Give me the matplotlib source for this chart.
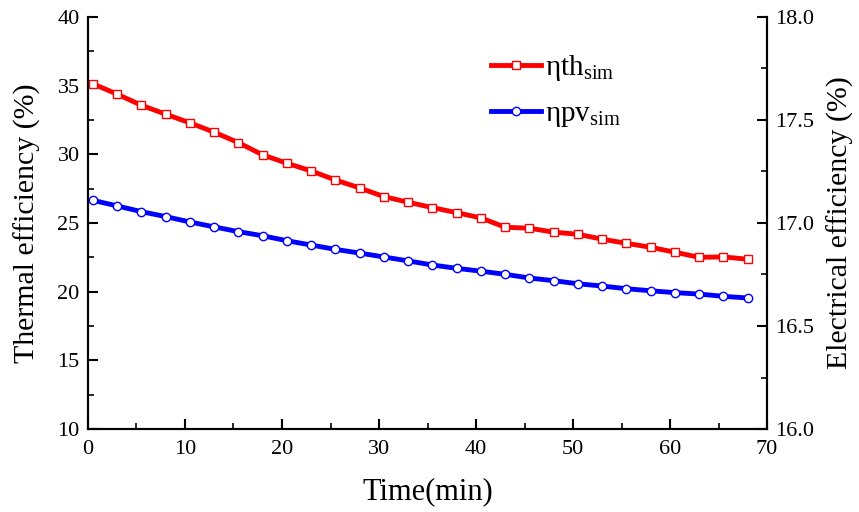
import matplotlib
matplotlib.use("Agg")
import matplotlib.pyplot as plt
from matplotlib.ticker import MultipleLocator

plt.rcParams['font.family'] = ['Liberation Serif', 'DejaVu Serif']
plt.rcParams['mathtext.fontset'] = 'custom'
plt.rcParams['mathtext.rm'] = 'Liberation Serif'

# time (min)
time = [0.5, 3.0, 5.5, 8.0, 10.5, 13.0, 15.5, 18.0, 20.5, 23.0, 25.5, 28.0, 30.5, 33.0,
        35.5, 38.0, 40.5, 43.0, 45.5, 48.0, 50.5, 53.0, 55.5, 58.0, 60.5, 63.0, 65.5, 68.0]
# thermal efficiency (%)
eta_th = [35.13, 34.38, 33.57, 32.92, 32.29, 31.61, 30.85, 29.96, 29.35, 28.79, 28.13, 27.55,
          26.92, 26.51, 26.12, 25.75, 25.37, 24.69, 24.62, 24.33, 24.18, 23.82, 23.52, 23.23,
          22.87, 22.50, 22.53, 22.36]
# electrical efficiency (%)
eta_pv = [17.110, 17.083, 17.055, 17.031, 17.005, 16.981, 16.958, 16.938, 16.914, 16.893,
          16.872, 16.854, 16.835, 16.816, 16.796, 16.780, 16.766, 16.751, 16.733, 16.720,
          16.705, 16.694, 16.681, 16.671, 16.662, 16.655, 16.644, 16.636]

fig = plt.figure(figsize=(8.59, 5.12), dpi=100)
ax = fig.add_axes([0.1024, 0.162, 0.7906, 0.805])
ax2 = ax.twinx()

l1, = ax.plot(time, eta_th, color='red', lw=3.5, marker='s', ms=5.5,
              mfc='white', mec='red', mew=1.0)
l2, = ax2.plot(time, eta_pv, color='blue', lw=3.5, marker='o', ms=6,
               mfc='white', mec='blue', mew=1.0)

ax.set_xlim(0, 70)
ax.set_ylim(10, 40)
ax2.set_ylim(16.0, 18.0)
ax.xaxis.set_major_locator(MultipleLocator(10))
ax.xaxis.set_minor_locator(MultipleLocator(5))
ax.yaxis.set_major_locator(MultipleLocator(5))
ax.yaxis.set_minor_locator(MultipleLocator(2.5))
ax2.yaxis.set_major_locator(MultipleLocator(0.5))
ax2.yaxis.set_minor_locator(MultipleLocator(0.25))
ax2.yaxis.set_major_formatter(matplotlib.ticker.FormatStrFormatter('%.1f'))

for a in (ax, ax2):
    a.tick_params(which='major', direction='in', length=7, width=1.5, labelsize=16, pad=6)
    a.tick_params(which='minor', direction='in', length=4, width=1.2)
    for s in a.spines.values():
        s.set_linewidth(1.5)
ax.tick_params(axis='x', which='major', pad=8)
ax.spines['top'].set_visible(False)
ax2.spines['top'].set_visible(False)

ax.set_xlabel('Time(min)', fontsize=22, labelpad=13)
ax.set_ylabel('Thermal efficiency (%)', fontsize=21.5, labelpad=12)
ax2.set_ylabel('Electrical efficiency (%)', fontsize=21.5, labelpad=9)

leg = ax.legend([l1, l2], ['ηth$_{\\rm sim}$', 'ηpv$_{\\rm sim}$'],
                loc='upper left', bbox_to_anchor=(0.555, 0.975), frameon=False,
                fontsize=21, handlelength=1.7, handletextpad=0.15, labelspacing=0.6)

fig.savefig('out.png', dpi=100)
